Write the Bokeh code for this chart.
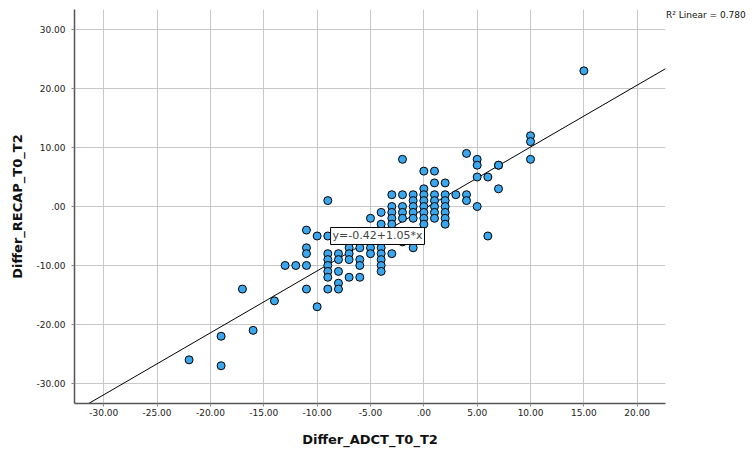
from bokeh.plotting import figure
from bokeh.models import (Range1d, FixedTicker, CustomJSTickFormatter, Label, ColumnDataSource,
                          Legend, LegendItem)
from bokeh.embed import file_html
from bokeh.resources import INLINE

# ---- data ----
adct = [15, 10, 10, 10, 7, 7, 7, 6, 6, 5, 5, 5, 5, 4, 4, 4, 3,
        2, 2, 2, 2, 2, 2, 2,
        1, 1, 1, 1, 1, 1, 1,
        0, 0, 0, 0, 0, 0, 0, 0,
        -1, -1, -1, -1, -1, -1,
        -2, -2, -2, -2, -2, -2,
        -3, -3, -3, -3, -3, -3,
        -4, -4, -4, -4, -4, -4, -4,
        -5, -5, -5,
        -6, -6, -6, -6,
        -7, -7, -7, -7,
        -8, -8, -8, -8, -8,
        -9, -9, -9, -9, -9, -9, -9, -9,
        -10, -10,
        -11, -11, -11, -11, -11,
        -12, -13, -14, -16, -17, -19, -19, -22]
recap = [23, 12, 11, 8, 7, 7, 3, 5, -5, 8, 7, 5, 0, 9, 2, 1, 2,
         4, 2, 1, 0, -1, -2, -3,
         6, 4, 2, 1, 0, -1, -2,
         6, 3, 2, 1, 0, -1, -2, -3,
         2, 1, 0, -1, -2, -7,
         8, 2, 0, -1, -2, -6,
         2, 0, -1, -2, -3, -8,
         -1, -3, -7, -8, -9, -10, -11,
         -2, -7, -8,
         -7, -9, -10, -12,
         -7, -8, -9, -12,
         -8, -9, -11, -13, -14,
         1, -5, -8, -9, -10, -11, -12, -14,
         -5, -17,
         -4, -7, -8, -10, -14,
         -10, -10, -16, -21, -14, -22, -27, -26]

intercept = -0.42
slope = 1.05
r2_text = "R\u00b2 Linear = 0.780"
eq_text = "y=-0.42+1.05*x"

x_ticks = [-30, -25, -20, -15, -10, -5, 0, 5, 10, 15, 20]
y_ticks = [-30, -20, -10, 0, 10, 20, 30]

x_title = "Differ_ADCT_T0_T2"
y_title = "Differ_RECAP_T0_T2"

FONT = "DejaVu Sans"

x_lo, x_hi = -32.74, 22.65
y_lo, y_hi = -33.4, 33.4

p = figure(frame_width=591, frame_height=394, output_backend="svg", toolbar_location=None,
           x_range=Range1d(x_lo, x_hi), y_range=Range1d(y_lo, y_hi),
           min_border_left=74, min_border_right=0, min_border_top=9, min_border_bottom=51)
p.outline_line_color = None
p.background_fill_color = "white"
p.border_fill_color = "white"

fmt = CustomJSTickFormatter(code="""
const s = tick.toFixed(2);
return s.replace(/^(-?)0\\./, '$1.');
""")

for ax, ticks in ((p.xaxis[0], x_ticks), (p.yaxis[0], y_ticks)):
    ax.ticker = FixedTicker(ticks=ticks)
    ax.formatter = fmt
    ax.axis_line_color = "#555555"
    ax.axis_line_width = 1.5
    ax.major_tick_in = 0
    ax.major_tick_out = 3
    ax.major_tick_line_color = "#888888"
    ax.minor_tick_line_color = None
    ax.major_label_text_font = FONT
    ax.major_label_text_font_size = "9px"
    ax.major_label_text_color = "#222222"
    ax.axis_label_text_font = FONT
    ax.axis_label_text_font_style = "bold"
    ax.axis_label_text_font_size = "13px"
    ax.axis_label_text_color = "#111111"

p.xaxis.axis_label = x_title
p.yaxis.axis_label = y_title
p.xaxis.major_label_standoff = 2
p.yaxis.major_label_standoff = 6
p.xaxis.axis_label_standoff = 13
p.yaxis.axis_label_standoff = 8

p.xgrid.ticker = FixedTicker(ticks=x_ticks)
p.ygrid.ticker = FixedTicker(ticks=y_ticks)
p.grid.grid_line_color = "#c8c8c8"
p.grid.grid_line_width = 1

# regression line across the x range
lx = [x_lo, x_hi]
ly = [intercept + slope * v for v in lx]
fit = p.line(lx, ly, line_color="black", line_width=1)

src = ColumnDataSource(dict(x=adct, y=recap))
p.scatter("x", "y", source=src, size=8, fill_color="#3aa6ee", line_color="black", line_width=1)

p.add_layout(Label(x=-8.74, y=-5.0, text=eq_text, text_font=FONT, text_font_size="11px",
                   text_baseline="middle", text_align="left",
                   background_fill_color="white", border_line_color="black", border_line_width=1,
                   padding=2))

# R² note, shown as a text-only legend in the right margin
legend = Legend(items=[LegendItem(label=r2_text, renderers=[fit])],
                location="top_left", glyph_width=0, glyph_height=11, label_height=11,
                label_standoff=1, padding=1, margin=0, spacing=0,
                border_line_color=None, background_fill_alpha=0,
                label_text_font=FONT, label_text_font_size="9px", label_text_color="#111111")
p.add_layout(legend, "right")

open("out.html", "w").write(file_html(p, INLINE))
